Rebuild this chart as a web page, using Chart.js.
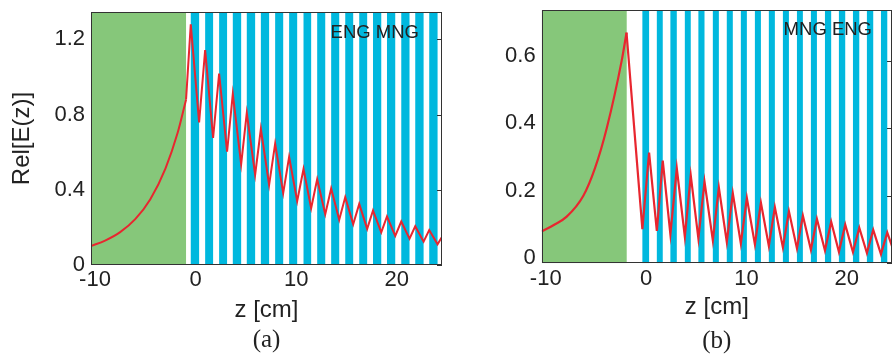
<!DOCTYPE html>
<html>
<head>
<meta charset="utf-8">
<script src="https://cdn.jsdelivr.net/npm/chart.js@4.4.1/dist/chart.umd.min.js"></script>
<style>
  body { margin: 0; background: #fff; }
  #wrap { position: relative; width: 892px; height: 355px; }
  canvas { position: absolute; top: 0; }
  #chartA { left: 0; }
  #chartB { left: 450px; }
</style>
</head>
<body>
<div id="wrap">
  <canvas id="chartA" width="450" height="355"></canvas>
  <canvas id="chartB" width="442" height="355"></canvas>
</div>
<script>
// axis ranges and tick labels
const zRange = [-10.4, 24.5];
const zTicks = [-10, 0, 10, 20];
const yTicksA = [0, 0.4, 0.8, 1.2];
const yTicksB = [0, 0.2, 0.4, 0.6];

// (a) ENG slab, then ENG/MNG stack
const greenEndA = -0.95;
const zGrowA = [-10.4, -9, -7.5, -6, -4.5, -3, -1.8, -0.95];
const eGrowA = [0.101, 0.130, 0.175, 0.244, 0.350, 0.513, 0.70, 0.879];
const peakZA = [-0.48, 0.95, 2.34, 3.70, 5.09, 6.49, 7.91, 9.30, 10.73, 12.09, 13.48, 14.88, 16.27, 17.64, 19.03, 20.45, 21.84, 23.23, 24.62];
const peakEA = [1.279, 1.142, 1.018, 0.909, 0.808, 0.723, 0.645, 0.575, 0.510, 0.456, 0.407, 0.361, 0.325, 0.290, 0.258, 0.231, 0.206, 0.186, 0.16];
const troughZA = [0.35, 1.74, 3.13, 4.53, 5.92, 7.31, 8.71, 10.10, 11.49, 12.89, 14.28, 15.67, 17.06, 18.46, 19.85, 21.27, 22.67, 24.06];
const troughEA = [0.758, 0.675, 0.602, 0.536, 0.480, 0.426, 0.382, 0.339, 0.302, 0.270, 0.240, 0.217, 0.192, 0.174, 0.155, 0.140, 0.124, 0.110];

// (b) MNG slab, then MNG/ENG stack
const greenEndB = -1.93;
const zGrowB = [-10.4, -9.15, -7.91, -6.25, -5.1, -3.92, -2.43, -1.95];
const eGrowB = [0.094, 0.114, 0.138, 0.2, 0.281, 0.4, 0.6, 0.683];
const troughZB = [-0.37, 1.07, 2.42, 3.86, 5.21, 6.65, 8.04, 9.44, 10.84, 12.23, 13.63, 15.03, 16.42, 17.82, 19.21, 20.61, 22.00, 23.40, 24.8];
const troughEB = [0.101, 0.096, 0.086, 0.079, 0.073, 0.068, 0.063, 0.059, 0.056, 0.051, 0.047, 0.044, 0.040, 0.038, 0.034, 0.033, 0.030, 0.027, 0.025];
const peakZB = [0.30, 1.66, 3.06, 4.45, 5.82, 7.25, 8.64, 10.04, 11.44, 12.83, 14.23, 15.62, 17.02, 18.44, 19.84, 21.24, 22.63, 24.03];
const peakEB = [0.328, 0.304, 0.281, 0.260, 0.242, 0.224, 0.207, 0.193, 0.179, 0.166, 0.154, 0.141, 0.131, 0.123, 0.114, 0.105, 0.099, 0.091];

const GREEN = '#86c77a';
const BLUE = '#00b8de';
const RED = '#e8262f';
const INK = '#222';

Chart.defaults.font.family = "'Liberation Sans', Arial, Helvetica, sans-serif";
Chart.defaults.color = INK;

function pts(xs, ys) {
    return xs.map((x, i) => ({ x: x, y: ys[i] }));
}

// saw-tooth: start at the end of the slab curve, then alternate
function sawA() {
    const out = [{ x: zGrowA[zGrowA.length - 1], y: eGrowA[eGrowA.length - 1] }];
    peakZA.forEach((z, i) => {
        out.push({ x: z, y: peakEA[i] });
        if (i < troughZA.length) out.push({ x: troughZA[i], y: troughEA[i] });
    });
    return out;
}
function sawB() {
    const out = [{ x: zGrowB[zGrowB.length - 1], y: eGrowB[eGrowB.length - 1] }];
    troughZB.forEach((z, i) => {
        out.push({ x: z, y: troughEB[i] });
        if (i < peakZB.length) out.push({ x: peakZB[i], y: peakEB[i] });
    });
    return out;
}

// coloured layers behind the curve
const layers = {
    id: 'layers',
    beforeDatasetsDraw(chart, args, opts) {
        const { ctx, chartArea: a, scales: { x } } = chart;
        ctx.save();
        ctx.beginPath();
        ctx.rect(a.left, a.top, a.width, a.height);
        ctx.clip();
        ctx.fillStyle = GREEN;
        const g0 = x.getPixelForValue(x.min), g1 = x.getPixelForValue(opts.greenEnd);
        ctx.fillRect(g0, a.top, g1 - g0, a.height);
        ctx.fillStyle = BLUE;
        opts.stripes.forEach(([s, e]) => {
            const p0 = x.getPixelForValue(s), p1 = x.getPixelForValue(e);
            ctx.fillRect(p0, a.top, p1 - p0, a.height);
        });
        ctx.restore();
    }
};

// box, inner ticks on the right, layer label
const frame = {
    id: 'frame',
    afterDatasetsDraw(chart, args, opts) {
        const { ctx, chartArea: a, scales: { y } } = chart;
        ctx.save();
        ctx.strokeStyle = '#333';
        ctx.lineWidth = 1;
        ctx.strokeRect(Math.round(a.left) + 0.5, Math.round(a.top) + 0.5,
            Math.round(a.width) - 1, Math.round(a.height) - 1);
        ctx.beginPath();
        y.ticks.forEach(t => {
            const py = Math.round(y.getPixelForValue(t.value)) + 0.5;
            ctx.moveTo(a.right, py);
            ctx.lineTo(a.right - 5, py);
        });
        ctx.stroke();
        ctx.fillStyle = INK;
        ctx.font = "18.5px 'Liberation Sans', Arial, sans-serif";
        ctx.textAlign = 'right';
        ctx.textBaseline = 'middle';
        ctx.fillText(opts.text, a.right - opts.dx, a.top + opts.dy);
        ctx.restore();
    }
};

function makeChart(id, cfg) {
    return new Chart(document.getElementById(id), {
        type: 'line',
        data: {
            datasets: [
                { data: cfg.grow, borderColor: RED, borderWidth: cfg.lw, pointRadius: 0, cubicInterpolationMode: 'monotone' },
                { data: cfg.saw, borderColor: RED, borderWidth: cfg.lw, pointRadius: 0, tension: 0 }
            ]
        },
        options: {
            responsive: false,
            animation: false,
            layout: { padding: cfg.padding },
            scales: {
                x: {
                    type: 'linear',
                    min: zRange[0],
                    max: zRange[1],
                    grid: { display: false, drawTicks: false },
                    border: { display: false },
                    afterBuildTicks: s => { s.ticks = zTicks.map(v => ({ value: v })); },
                    afterFit: s => { s.height = cfg.xHeight; s.paddingLeft = 0; s.paddingRight = 0; },
                    ticks: { font: { size: 22 }, padding: cfg.xPad, color: INK, callback: v => String(v) },
                    title: { display: true, text: 'z [cm]', font: { size: 24 }, color: INK,
                        padding: { top: 0, bottom: cfg.xTitlePad } }
                },
                y: {
                    type: 'linear',
                    min: 0,
                    max: cfg.yMax,
                    grid: { display: false, drawTicks: false },
                    border: { display: false },
                    afterBuildTicks: s => { s.ticks = cfg.yTicks.map(v => ({ value: v })); },
                    afterFit: s => { s.width = cfg.yWidth; s.paddingTop = 0; s.paddingBottom = 0; },
                    ticks: { font: { size: 22 }, padding: 6, color: INK, labelOffset: cfg.yLabelOffset,
                        callback: v => (v === 0 ? '0' : v.toFixed(1)) },
                    title: { display: cfg.yTitle !== '', text: cfg.yTitle, font: { size: 24 }, color: INK,
                        padding: { top: 8, bottom: 0 } }
                }
            },
            plugins: {
                legend: { display: false },
                tooltip: { enabled: false },
                title: {
                    display: true, text: cfg.caption, position: 'bottom', fullSize: false,
                    font: { family: "'Liberation Serif', 'Times New Roman', serif", size: 25, weight: 'normal', lineHeight: cfg.capLH },
                    padding: 0, color: INK
                },
                layers: { greenEnd: cfg.greenEnd, stripes: cfg.stripes },
                frame: { text: cfg.label, dx: cfg.labelDx, dy: cfg.labelDy }
            }
        },
        plugins: [layers, frame]
    });
}

makeChart('chartA', {
    grow: pts(zGrowA, eGrowA),
    saw: sawA(),
    lw: 2,
    padding: { top: 12, right: 8, left: 0, bottom: 0 },
    xHeight: 60, xPad: 1.5, xTitlePad: 0,
    yMax: 1.345, yTicks: yTicksA, yWidth: 91, yLabelOffset: 0, yTitle: 'Rel[E(z)]',
    caption: '(a)', capLH: 1.2,
    greenEnd: greenEndA,
    stripes: troughZA.map((e, i) => [peakZA[i], e]),
    label: 'ENG MNG', labelDx: 23, labelDy: 21
});

makeChart('chartB', {
    grow: pts(zGrowB, eGrowB),
    saw: sawB(),
    lw: 2.2,
    padding: { top: 10, right: 0, left: 0, bottom: 0 },
    xHeight: 65, xPad: 2.5, xTitlePad: 6.6,
    yMax: 0.75, yTicks: yTicksB, yWidth: 91.7, yLabelOffset: -5, yTitle: '',
    caption: '(b)', capLH: 1.07,
    greenEnd: greenEndB,
    stripes: peakZB.map((e, i) => [troughZB[i], e]),
    label: 'MNG ENG', labelDx: 20, labelDy: 19.5
});
</script>
</body>
</html>
